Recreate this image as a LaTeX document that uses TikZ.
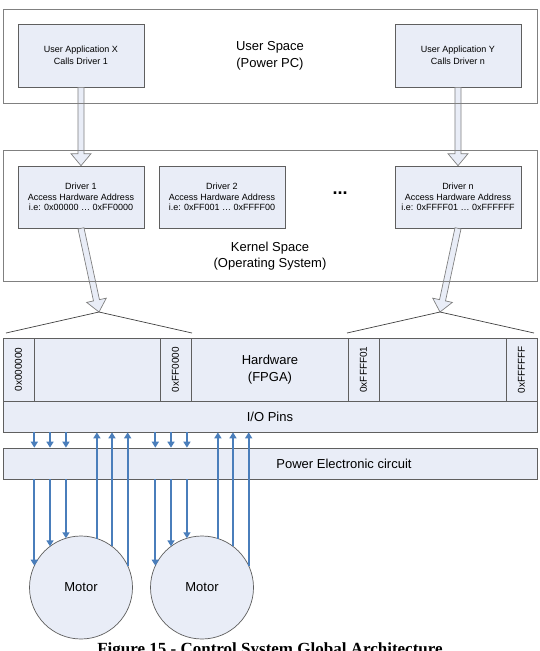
\documentclass[tikz,border=0pt]{standalone}
\usepackage{fontspec}
\setmainfont{Liberation Sans}
\newfontfamily\capfont{Liberation Serif}
\usetikzlibrary{arrows.meta,shapes.arrows,calc}

\definecolor{boxfill}{RGB}{233,237,247}
\definecolor{boxline}{RGB}{95,95,95}
\definecolor{spaceline}{RGB}{128,128,128}
\definecolor{sigblue}{RGB}{74,126,187}

\newcommand{\hollowarrow}[2]{%
  \path let \p1=(#1), \p2=(#2), \n1={atan2(\y2-\y1,\x2-\x1)}, \n2={veclen(\x2-\x1,\y2-\y1)} in
    node[hollow, anchor=tail, rotate=\n1, minimum height=\n2] at (\p1) {};}

\begin{document}
\begin{tikzpicture}[x=1pt, y=-1pt,
  space/.style={draw=spaceline, line width=0.9pt, inner sep=0pt, align=center,
    font=\fontsize{13}{16.5}\selectfont},
  appbox/.style={draw=boxline, fill=boxfill, line width=0.7pt, minimum width=126pt,
    minimum height=63pt, inner sep=0pt, align=center, font=\fontsize{9}{11.5}\selectfont},
  drvbox/.style={appbox, minimum height=62pt, font=\fontsize{9}{10.3}\selectfont},
  band/.style={draw=boxline, fill=boxfill, line width=0.7pt, minimum width=534pt,
    inner sep=0pt, align=center, font=\fontsize{13}{16.5}\selectfont},
  cell/.style={draw=boxline, line width=0.7pt, minimum width=31pt, minimum height=63pt,
    inner sep=0pt, font=\fontsize{10}{12}\selectfont},
  hollow/.style={single arrow, draw=spaceline, fill=boxfill, line width=0.7pt,
    inner sep=2.7pt, outer sep=0pt, single arrow head extend=7pt, single arrow tip angle=80},
  sig/.style={draw=sigblue, line width=1.8pt, -{Triangle[length=6pt,width=7pt]}},
  motor/.style={circle, draw=boxline, fill=boxfill, line width=0.7pt, minimum size=103pt,
    inner sep=0pt, outer sep=0pt, font=\fontsize{13}{15}\selectfont}]
\useasboundingbox (0,0) rectangle (540,651);

% applications and drivers
\node[appbox] (appx) at (81,55.5) {User Application X\\Calls Driver 1};
\node[appbox] (appy) at (458,55.5) {User Application Y\\Calls Driver n};
\node[drvbox] (drv1) at (81,197) {Driver 1\\Access Hardware Address\\i.e: 0x00000 \dots\ 0xFF0000};
\node[drvbox] (drv2) at (222,197) {Driver 2\\Access Hardware Address\\i.e: 0xFF001 \dots\ 0xFFFF00};
\node[drvbox] (drvn) at (458,197) {Driver n\\Access Hardware Address\\i.e: 0xFFFF01 \dots\ 0xFFFFFF};
\node[font=\fontsize{18}{18}\selectfont\bfseries] (dots) at (340,193) {...};

\coordinate (apexl) at (99,312);
\coordinate (apexr) at (440,312);
\hollowarrow{appx.south}{drv1.north}
\hollowarrow{appy.south}{drvn.north}
\hollowarrow{drv1.south}{apexl}
\hollowarrow{drvn.south}{apexr}

\node[space, minimum width=534pt, minimum height=94pt] (user) at (270,56) {User Space\\(Power PC)};
\node[space, minimum width=534pt, minimum height=131pt] (kernel) at (270,215.5) {};
\node[font=\fontsize{13}{16.5}\selectfont, align=center] (ktext) at (270,256) {Kernel Space\\(Operating System)};

% hardware
\node[band, minimum height=63pt] (hw) at (270,369.5) {Hardware\\(FPGA)};
\node[cell] (c1) at (18.5,369.5) {\rotatebox{90}{0x000000}};
\node[cell] (c2) at (175.5,369.5) {\rotatebox{90}{0xFF0000}};
\node[cell] (c3) at (363.5,369.5) {\rotatebox{90}{0xFFFF01}};
\node[cell] (c4) at (521.5,369.5) {\rotatebox{90}{0xFFFFFF}};
\draw[draw=black!75, line width=0.7pt] (6,333) -- (apexl) -- (192,333);
\draw[draw=black!75, line width=0.7pt] (347,333) -- (apexr) -- (534,333);

\node[band, minimum height=31pt] (io) at (270,416.5) {I/O Pins};
\node[band, minimum height=31pt] (pec) at (270,463.5) {};
\node[font=\fontsize{13}{15}\selectfont] (pectext) at (344,463.5) {Power Electronic circuit};

\node[motor] (m1) at (81,587.5) {Motor};
\node[motor] (m2) at (202,587.5) {Motor};

\foreach \m in {m1,m2}{
  \foreach \a in {155,127,107}{
    \draw[sig] (\m.\a |- io.south) -- (\m.\a |- pec.north);
    \draw[sig] (\m.\a |- pec.south) -- (\m.\a);
  }
  \foreach \a in {72,53,25}
    \draw[sig] (\m.\a) -- (\m.\a |- io.south);
}

\node[font=\capfont\bfseries\fontsize{17}{20}\selectfont, anchor=base] (caption) at (270,654)
  {Figure 15 - Control System Global Architecture};
\end{tikzpicture}
\end{document}
